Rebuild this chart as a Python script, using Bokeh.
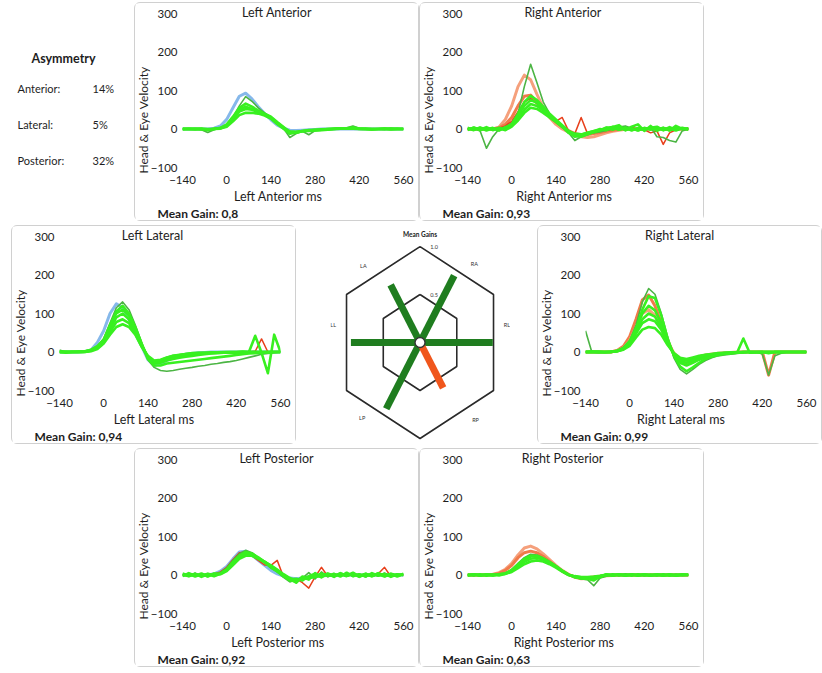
import math
from bokeh.plotting import figure
from bokeh.models import Range1d, FixedTicker, Label, Spacer, Title
from bokeh.layouts import row, column
from bokeh.embed import file_html
from bokeh.resources import INLINE

nan = float("nan")

# ---------------- data ----------------
t_ms = [-140, -120, -100, -80, -60, -40, -20, 0, 20, 40, 60, 80, 100, 120, 140, 160, 180, 200,
        220, 240, 260, 280, 300, 320, 340, 360, 380, 400, 420, 440, 460, 480, 500, 520, 540, 560]
x_ticks = [-140, 0, 140, 280, 420, 560]
y_ticks = [-100, 0, 100, 200, 300]

canals = ["LA", "RA", "LL", "RL", "LP", "RP"]
panel_titles = ["Left Anterior", "Right Anterior", "Left Lateral", "Right Lateral", "Left Posterior", "Right Posterior"]
mean_gains = [0.80, 0.93, 0.94, 0.99, 0.92, 0.63]
mean_gain_labels = ["0,8", "0,93", "0,94", "0,99", "0,92", "0,63"]
asym_names = ["Anterior:", "Lateral:", "Posterior:"]
asym_values = ["14%", "5%", "32%"]

# Left Anterior
la_head = [0, 0, 0, 0, 0, 2, 8, 25, 55, 85, 93, 78, 58, 40, 24, 10, 2, -3, -4, -3, -2, -1, 0, 0, 0, 0, 0, 0, 0, 0, 0, 0, 0, 0, 0, 0]
la_eye_1 = [0, -1, 0, -2, -9, -2, 2, 10, 30, 60, 84, 72, 55, 42, 30, 15, 2, -22, -12, -6, -15, -4, -2, -1, 0, 1, 3, 8, 2, 0, 1, 0, -1, 2, 0, 1]
la_eye_2 = [1, 0, -1, 0, -2, 0, 3, 12, 32, 55, 66, 58, 48, 40, 32, 18, 5, -8, -10, -6, -5, -4, -3, -2, 0, 2, 1, 4, 1, 0, -1, 0, 1, -1, 0, 0]
la_eye_3 = [0, 1, 0, 0, -3, 1, 2, 8, 25, 45, 52, 50, 44, 38, 30, 16, 4, -10, -8, -5, -4, -3, -2, -1, 0, 1, 2, 2, 0, 0, -1, 0, 0, 1, 0, 0]
la_eye_4 = [-1, 0, 1, 0, 0, 0, 1, 6, 20, 36, 42, 42, 40, 35, 27, 14, 2, -6, -7, -5, -3, -2, -1, 0, 0, 1, 1, 1, 0, 1, 0, 0, 1, 0, 0, 0]
la_eye_5 = [0, 0, 0, 1, -1, 0, 2, 9, 28, 50, 58, 52, 45, 38, 28, 13, 1, -12, -9, -6, -4, -3, -2, 0, 1, 2, 2, 3, 1, 0, 0, 0, 0, 0, 1, 0]

# Right Anterior
ra_head_1 = [0, 0, 0, 0, 0, 5, 25, 60, 110, 140, 128, 90, 55, 30, 12, 0, -8, -15, -20, -22, -20, -15, -10, -6, -3, -1, 0, 0, 0, 0, 0, 0, 0, 0, 0, 0]
ra_head_2 = [0, 0, 0, 0, 0, 3, 12, 30, 60, 85, 88, 70, 50, 32, 18, 6, -4, -12, -15, -14, -12, -9, -6, -3, -1, 0, 0, 0, 0, 0, 0, 0, 0, 0, 0, 0]
ra_red = [0, 1, -1, 0, 1, 2, 8, 20, 45, 70, 80, 65, 48, 32, 20, 30, -5, -12, 30, -12, -8, -5, -3, 0, 2, 4, 3, 0, -2, -10, -5, -40, -10, -2, 0, 1]
ra_eye_1 = [0, 2, -5, -50, -20, 0, 5, 15, 40, 110, 168, 120, 70, 40, 20, 5, -10, -30, -20, -15, -10, -8, -4, 0, 5, 8, 2, 0, -2, 5, -20, -22, -30, -34, -5, 0]
ra_eye_2 = [2, -3, 4, -2, 3, -4, 5, 12, 40, 70, 86, 75, 58, 40, 25, 10, -5, -15, -18, -12, -8, -4, 3, 5, 10, -3, 6, 12, -5, 8, -5, 3, -4, 8, 0, 2]
ra_eye_3 = [-3, 4, -2, 5, -3, 3, -2, 10, 35, 60, 75, 68, 52, 38, 22, 8, -8, -20, -15, -10, -6, 0, -3, 6, -2, 4, -4, 3, -2, 3, 6, -3, 5, -2, 3, -1]
ra_eye_4 = [3, -2, 3, -4, 2, -3, 4, 8, 28, 50, 65, 60, 48, 34, 20, 6, -10, -18, -20, -14, -8, -3, 4, -2, 5, -3, 2, -4, 3, -2, 4, -3, 2, -4, 2, -2]
ra_eye_5 = [-2, 3, -3, 2, -2, 2, -3, 6, 22, 42, 55, 52, 42, 30, 18, 5, -6, -12, -14, -10, -5, -2, -1, 3, -2, 2, 0, -3, 1, 2, -2, 3, -3, 2, 0, 1]

# Left Lateral
ll_head = [0, 0, 0, 0, 1, 5, 25, 55, 100, 125, 115, 85, 50, 15, -20, -35, -30, -22, -15, -10, -6, -4, -2, -1, 0, 0, 0, 0, 0, 0, 0, 0, 0, 0, 0, 0]
ll_red = [nan, nan, nan, nan, nan, nan, nan, nan, nan, nan, nan, nan, nan, nan, nan, nan, nan, nan, nan, nan, nan, nan, nan, nan, nan, nan, nan, nan, nan, nan, 0, 2, 34, 0, nan, nan]
ll_eye_1 = [5, 0, 0, 0, 2, 5, 15, 35, 75, 115, 130, 110, 70, 25, -20, -40, -48, -50, -48, -45, -42, -40, -37, -35, -32, -30, -27, -25, -22, -18, -14, -10, -6, -4, -2, 0]
ll_eye_2 = [0, -2, 0, 1, 2, 6, 15, 32, 70, 105, 120, 100, 65, 22, -15, -30, -28, -22, -18, -15, -12, -10, -8, -6, -4, -3, -2, -2, -1, -2, 0, 42, -2, -55, 45, 0]
ll_eye_3 = [0, 0, 1, 0, 1, 4, 12, 28, 60, 90, 100, 85, 55, 18, -15, -28, -25, -20, -15, -10, -8, -6, -5, -4, -3, -2, -2, -1, -1, 0, 0, 0, -1, 0, 0, 0]
ll_eye_4 = [0, 1, 0, 0, 0, 3, 10, 25, 52, 78, 85, 75, 48, 15, -12, -25, -22, -15, -10, -8, -5, -4, -3, -2, -2, -1, -1, 0, 0, 1, 0, 0, 0, 0, 0, 0]
ll_eye_5 = [0, 0, 0, 1, 0, 2, 8, 22, 45, 65, 72, 65, 45, 14, -10, -22, -20, -14, -10, -7, -5, -3, -2, -2, -1, -1, 0, 0, 0, 0, 0, 0, 0, 0, 0, 0]
ll_eye_6 = [2, 0, 0, 0, 1, 5, 14, 30, 68, 100, 110, 95, 62, 20, -18, -35, -35, -30, -28, -26, -24, -22, -20, -18, -16, -14, -12, -10, -8, -6, -4, -3, -2, -1, 0, 0]

# Right Lateral
rl_head_1 = [0, 0, 0, 0, 0, 4, 15, 40, 85, 135, 148, 120, 75, 30, -5, -25, -30, -25, -18, -12, -8, -5, -3, -2, -1, 0, 0, 0, 0, -60, 0, 0, 0, 0, 0, 0]
rl_head_2 = [0, 0, 0, 0, 0, 3, 10, 30, 65, 100, 110, 95, 62, 25, -3, -18, -22, -18, -12, -8, -5, -3, -2, -1, 0, 0, 0, 0, 0, 0, 0, 0, 0, 0, 0, 0]
rl_eye_1 = [55, 0, -2, 0, 1, 4, 12, 30, 70, 130, 165, 150, 100, 40, -15, -45, -57, -45, -32, -22, -15, -10, -8, -6, -4, -2, 0, 0, -5, -60, -10, -3, 0, 0, 0, 0]
rl_eye_2 = [0, 1, 0, -1, 0, 3, 10, 28, 62, 100, 120, 108, 75, 30, -8, -28, -35, -28, -20, -14, -10, -6, -4, -3, -2, 35, -2, -1, 0, -3, 0, 0, 0, 0, 0, 0]
rl_eye_3 = [0, 0, 1, 0, 0, 2, 8, 24, 55, 85, 100, 92, 65, 26, -6, -24, -28, -22, -15, -10, -7, -5, -3, -2, -1, -1, 0, 0, 0, 0, 0, 0, 0, 0, 0, 0]
rl_eye_4 = [0, 0, 0, 0, 1, 2, 7, 20, 48, 75, 85, 80, 58, 22, -5, -20, -22, -18, -12, -8, -6, -4, -3, -2, -1, 0, 0, 0, 0, 0, 0, 0, 0, 0, 0, 0]
rl_eye_5 = [0, 1, 0, 0, 0, 2, 6, 16, 38, 58, 65, 62, 45, 18, -3, -15, -18, -14, -10, -7, -5, -3, -2, -1, -1, 0, 0, 0, 0, 0, 0, 0, 0, 0, 0, 0]
rl_eye_6 = [0, 0, 0, 0, 0, 3, 10, 25, 60, 110, 145, 140, 95, 35, -10, -38, -50, -40, -28, -18, -12, -8, -5, -3, -2, 0, 0, 0, 0, 0, 0, 0, 0, 0, 0, 0]

# Left Posterior
lp_head = [0, 0, 0, 0, 0, 3, 10, 22, 42, 60, 62, 52, 38, 25, 12, 3, -3, -8, -10, -8, -5, -3, -2, -1, 0, 0, 0, 0, 0, 0, 0, 0, 0, 0, 0, 0]
lp_red = [0, 1, -1, 0, 2, 3, 8, 20, 40, 58, 60, 50, 38, 26, 25, 38, -5, -12, -10, -20, -34, -5, 20, -3, 0, 2, -2, 0, 1, -2, 0, 3, 20, -4, 0, 1]
lp_eye_1 = [2, -4, 5, -3, 4, -2, 6, 18, 38, 55, 64, 58, 45, 32, 18, 8, -6, -18, -12, -8, 6, -10, 8, -5, 4, -3, 5, -4, 3, -5, 4, -3, 5, -4, 3, -2]
lp_eye_2 = [-3, 5, -2, 4, -4, 3, 4, 15, 34, 50, 60, 56, 46, 34, 22, 10, -3, -14, -16, -6, -12, 5, -6, 3, -5, 4, -2, 6, -4, 2, -3, 5, -2, 3, -4, 2]
lp_eye_3 = [4, -2, 3, -5, 2, -3, 3, 12, 30, 46, 55, 54, 44, 35, 24, 12, 0, -10, -20, -4, -8, -6, 4, -2, 3, -4, 6, -3, 2, -4, 5, -2, 3, -5, 2, 0]
lp_eye_4 = [-2, 3, -4, 2, -3, 4, 2, 10, 26, 42, 50, 50, 42, 34, 25, 14, 2, -8, -14, -10, -5, -3, -4, 2, -3, 5, -2, 3, -5, 3, -2, 4, -3, 2, -2, 3]
lp_eye_5 = [1, -3, 2, -2, 3, -1, 3, 14, 32, 48, 58, 53, 43, 33, 20, 9, -2, -12, -10, -14, -3, 3, -3, 4, -2, 2, -3, 4, -2, 3, -3, 2, -4, 3, -1, 2]

# Right Posterior
rp_head_1 = [0, 0, 0, 0, 2, 6, 15, 30, 52, 70, 75, 68, 55, 40, 25, 12, 2, -6, -10, -9, -6, -4, -2, -1, 0, 0, 0, 0, 0, 0, 0, 0, 0, 0, 0, 0]
rp_head_2 = [0, 0, 0, 0, 1, 4, 12, 25, 45, 58, 62, 58, 48, 35, 22, 10, 1, -5, -8, -7, -5, -3, -1, 0, 0, 0, 0, 0, 0, 0, 0, 0, 0, 0, 0, 0]
rp_eye_1 = [1, -2, 2, -1, 2, 0, 5, 14, 30, 45, 54, 52, 44, 34, 24, 12, 2, -6, -10, -12, -28, -8, -3, 2, -2, 3, -1, 2, -2, 1, -2, 2, -1, 2, -1, 0]
rp_eye_2 = [-2, 1, -1, 2, -1, 2, 4, 12, 26, 40, 48, 48, 42, 33, 22, 11, 1, -5, -8, -8, -10, -6, 2, -2, 1, -2, 2, -1, 1, -2, 1, -1, 2, -1, 1, 0]
rp_eye_3 = [0, 2, -1, 1, 0, 1, 3, 10, 22, 34, 42, 44, 40, 32, 22, 10, 0, -4, -6, -6, -8, -3, -1, 2, -1, 1, -2, 2, -1, 1, -1, 2, -2, 1, 0, 1]
rp_eye_4 = [1, -1, 2, -2, 1, -1, 3, 8, 18, 28, 35, 38, 35, 28, 19, 9, 0, -3, -5, -5, -4, -2, 1, -1, 2, -1, 1, -2, 1, -1, 2, -1, 1, -2, 1, 0]
rp_eye_5 = [-1, 2, -2, 1, -1, 2, 4, 13, 28, 42, 50, 50, 43, 34, 23, 11, 1, -6, -9, -10, -14, -4, 1, -1, 2, -1, 2, -1, 2, -1, 1, -2, 1, -1, 1, 0]

# ---------------- style ----------------
FONT = "Lato"
TXT = "#1e1e1e"
BLUE = "#86b8ea"
SALMON = "#f5a07c"
ORANGE = "#f07a4a"
RED = "#e8401c"
GREEN = "#38f020"
DKGREEN = "#4cb544"
PW, PH = 283, 217
FL, FR, FT, FB = 47, 15, 10, 52   # frame borders inside a panel
BORDER = {"outline": "1px solid #d0d0d0", "outline-offset": "0px", "border-radius": "5px"}


def est_width(text, size, bold):
    return len(text) * size * (0.47 if bold else 0.43)


def make_panel(idx, heads, head_colors, reds, eyes):
    p = figure(width=PW, height=PH, x_range=Range1d(-140, 560), y_range=Range1d(-100, 300),
               output_backend="svg", toolbar_location=None,
               min_border_left=FL, min_border_right=FR, min_border_top=FT, min_border_bottom=FB)
    p.grid.visible = False
    p.outline_line_color = None
    p.background_fill_color = "white"
    p.border_fill_color = "white"
    for ax in (p.xaxis[0], p.yaxis[0]):
        ax.axis_line_color = None
        ax.major_tick_line_color = None
        ax.minor_tick_line_color = None
        ax.major_tick_in = 0
        ax.major_tick_out = 0
        ax.minor_tick_out = 0
        ax.major_label_text_font = FONT
        ax.major_label_text_font_size = "11.5px"
        ax.major_label_text_color = TXT
    p.xaxis.ticker = FixedTicker(ticks=x_ticks)
    p.yaxis.ticker = FixedTicker(ticks=y_ticks)
    p.xaxis.major_label_standoff = 8
    p.yaxis.major_label_standoff = 5

    for h, c in zip(heads, head_colors):
        p.line(t_ms, h, line_color=c, line_width=3, line_join="round")
    for r in reds:
        p.line(t_ms, r, line_color=RED, line_width=1.5, line_join="round")
    for k, e in enumerate(eyes):
        if k == 0:
            p.line(t_ms, e, line_color=DKGREEN, line_width=1.6, line_join="round")
    for k, e in enumerate(eyes):
        if k > 0:
            p.line(t_ms, e, line_color=GREEN, line_width=2.6, line_join="round")

    title = panel_titles[idx]
    center_off = PW / 2 - FL
    p.title.text = title
    p.title.align = "left"
    p.title.offset = center_off - est_width(title, 12.5, False) / 2
    p.title.standoff = -12
    p.title.text_font = FONT
    p.title.text_font_size = "12.5px"
    p.title.text_font_style = "normal"
    p.title.text_color = TXT
    p.add_layout(Title(text="Head & Eye Velocity", align="left", offset=-6, standoff=-6,
                       text_font=FONT, text_font_size="12px", text_font_style="normal",
                       text_color=TXT), "left")
    xl = title + " ms"
    p.add_layout(Title(text=xl, align="left", offset=center_off - est_width(xl, 12.5, False) / 2,
                       standoff=0, text_font=FONT, text_font_size="12.5px",
                       text_font_style="normal", text_color=TXT), "below")
    p.add_layout(Title(text="Mean Gain: " + mean_gain_labels[idx], align="left", offset=22 - FL,
                       standoff=0, text_font=FONT, text_font_size="12px",
                       text_font_style="bold", text_color=TXT), "below")
    p.styles = BORDER
    return p


la = make_panel(0, [la_head], [BLUE], [], [la_eye_1, la_eye_2, la_eye_3, la_eye_4, la_eye_5])
ra = make_panel(1, [ra_head_1, ra_head_2], [SALMON, ORANGE], [ra_red], [ra_eye_1, ra_eye_2, ra_eye_3, ra_eye_4, ra_eye_5])
ll = make_panel(2, [ll_head], [BLUE], [ll_red], [ll_eye_1, ll_eye_2, ll_eye_3, ll_eye_4, ll_eye_5, ll_eye_6])
rl = make_panel(3, [rl_head_1, rl_head_2], [ORANGE, SALMON], [], [rl_eye_1, rl_eye_2, rl_eye_3, rl_eye_4, rl_eye_5, rl_eye_6])
lp = make_panel(4, [lp_head], [BLUE], [lp_red], [lp_eye_1, lp_eye_2, lp_eye_3, lp_eye_4, lp_eye_5])
rp = make_panel(5, [rp_head_1, rp_head_2], [SALMON, ORANGE], [], [rp_eye_1, rp_eye_2, rp_eye_3, rp_eye_4, rp_eye_5])

# ---------------- asymmetry block ----------------
asym = figure(width=130, height=PH, output_backend="svg", toolbar_location=None, title=None,
              x_axis_location=None, y_axis_location=None,
              x_range=Range1d(0, 1), y_range=Range1d(0, 1), min_border=0)
asym.grid.visible = False
asym.outline_line_color = None
asym.add_layout(Label(x=63, y=55, x_units="canvas", y_units="canvas", text="Asymmetry",
                      text_align="center", text_baseline="middle", text_font=FONT,
                      text_font_size="12.5px", text_font_style="bold", text_color=TXT))
for i, (nm, vv) in enumerate(zip(asym_names, asym_values)):
    asym.add_layout(Label(x=17, y=85 + 36 * i, x_units="canvas", y_units="canvas", text=nm,
                          text_align="left", text_baseline="middle", text_font=FONT,
                          text_font_size="11px", text_color=TXT))
    asym.add_layout(Label(x=92, y=85 + 36 * i, x_units="canvas", y_units="canvas", text=vv,
                          text_align="left", text_baseline="middle", text_font=FONT,
                          text_font_size="11px", text_color=TXT))

# ---------------- mean gains hexagon ----------------
hx = figure(width=180, height=PH, output_backend="svg", toolbar_location=None, title=None,
            x_axis_location=None, y_axis_location=None,
            x_range=Range1d(-1.218, 1.231), y_range=Range1d(-1.215, 1.396), min_border=0)
hx.grid.visible = False
hx.outline_line_color = None
ring_values = [0.5, 1.0]
ring_labels = ["0.5", "1.0"]
for rv, rl_txt in zip(ring_values, ring_labels):
    R = rv / math.cos(math.pi / 6)
    xs = [R * math.cos(math.radians(90 + 60 * k)) for k in range(7)]
    ys = [R * math.sin(math.radians(90 + 60 * k)) for k in range(7)]
    hx.line(xs, ys, line_color="#2a2a2a", line_width=1.6)
    hx.add_layout(Label(x=0, y=R, text=rl_txt, x_offset=14, y_offset=0, text_align="center",
                        text_baseline="middle", text_font=FONT, text_font_size="5.5px",
                        text_color="#333333"))
spoke_angle = {"RL": 0, "RA": 60, "LA": 120, "LL": 180, "LP": 240, "RP": 300}
label_shift = {"RL": 10, "RA": -8, "LA": 10, "LL": -10, "LP": -11, "RP": 9}
for c, g in zip(canals, mean_gains):
    a = math.radians(spoke_angle[c])
    col = "#f0561c" if g < 0.7 else "#1f7d1f"
    hx.segment(x0=[0], y0=[0], x1=[g * math.cos(a)], y1=[g * math.sin(a)],
               line_color=col, line_width=7)
    la_ = math.radians(spoke_angle[c] + label_shift[c])
    hx.add_layout(Label(x=1.2 * math.cos(la_), y=1.2 * math.sin(la_), text=c,
                        text_align="center", text_baseline="middle", text_font=FONT,
                        text_font_size="5.5px", text_color="#333333"))
hx.scatter(x=[0], y=[0], size=10, fill_color="white", line_color="#333333", line_width=1.4)
hx.add_layout(Label(x=0, y=1.3, text="Mean Gains", text_align="center", text_baseline="middle",
                    text_font=FONT, text_font_size="6.5px", text_font_style="bold",
                    text_color="#222222"))

# ---------------- layout ----------------
row1 = row(asym, Spacer(width=5, height=PH), la, Spacer(width=2, height=PH), ra)
hx_box = column(Spacer(width=180, height=0), hx)
row2 = row(Spacer(width=12, height=PH), ll, Spacer(width=35, height=PH), hx_box,
           Spacer(width=28, height=PH), rl)
row3 = row(Spacer(width=135, height=PH), lp, Spacer(width=2, height=PH), rp)
page = column(Spacer(width=10, height=3), row1, Spacer(width=10, height=6), row2,
              Spacer(width=10, height=6), row3)

open("out.html", "w").write(file_html(page, INLINE, title="Mean Gains"))
